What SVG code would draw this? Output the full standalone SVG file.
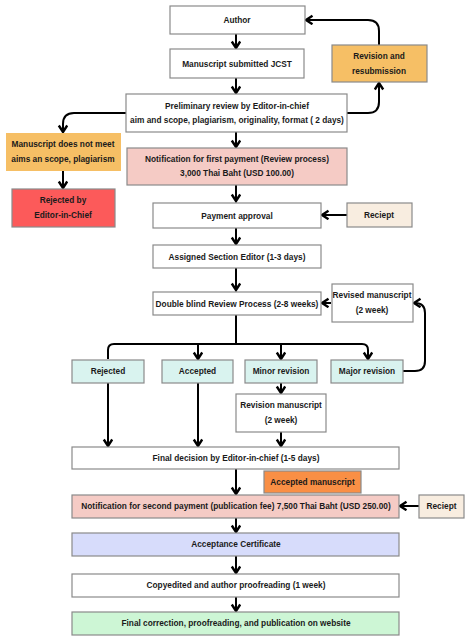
<svg xmlns="http://www.w3.org/2000/svg" width="474" height="642" viewBox="0 0 474 642">
<style>
.b{stroke:#8a8a8a;stroke-width:1.2}
.w{fill:#ffffff}
.pk{fill:#f5cbc5}
.cy{fill:#d9f3ef}
.yl{fill:#f6bf65}
.t{font-family:"Liberation Sans",Arial,sans-serif;font-size:8.3px;font-weight:bold;fill:#1a1a1a;text-anchor:middle;dominant-baseline:central}
.c{fill:none;stroke:#000;stroke-width:2;marker-end:url(#ah)}
.n{fill:none;stroke:#000;stroke-width:2}
</style>
<defs>
<marker id="ah" markerUnits="userSpaceOnUse" markerWidth="12" markerHeight="12" refX="8" refY="5" orient="auto">
<path d="M1.5,0.8 L8,5 L1.5,9.2" fill="none" stroke="#000" stroke-width="2.4" stroke-linejoin="miter"/>
</marker>
</defs>
<rect width="474" height="642" fill="#ffffff"/>
<g id="connectors">
<path class="c" d="M236,34 V48"/>
<path class="c" d="M236,78 V93"/>
<path class="c" d="M236,132 V147"/>
<path class="c" d="M236,185 V201"/>
<path class="c" d="M236,228 V244"/>
<path class="c" d="M236,268 V290"/>
<path class="c" d="M347,215 H322"/>
<path class="c" d="M331,303 H322"/>
<path class="n" d="M236,315 V344"/>
<path class="c" d="M108,359 V350 Q108,344 114,344 H362 Q368,344 368,350 V359"/>
<path class="c" d="M198,344 V359"/>
<path class="c" d="M281,344 V359"/>
<path class="c" d="M108,383 V446"/>
<path class="c" d="M198,383 V446"/>
<path class="c" d="M281,383 V393"/>
<path class="c" d="M281,432 V446"/>
<path class="c" d="M403,371 H415 Q425,371 425,361 V313 Q425,303 415,303 H414"/>
<path class="c" d="M236,469 V494"/>
<path class="c" d="M419,506 H400"/>
<path class="c" d="M236,518 V532"/>
<path class="c" d="M236,556 V573"/>
<path class="c" d="M236,597 V611"/>
<path class="c" d="M347,113 H368 Q379,113 379,102 V83"/>
<path class="c" d="M379,45 V31 Q379,20 368,20 H306"/>
<path class="c" d="M126,113 H74 Q63,113 63,124 V132"/>
<path class="c" d="M63,171 V188"/>
</g>
<g id="author"><rect class="b w" x="170" y="6" width="135" height="28"/><text class="t" x="237" y="20">Author</text></g>
<g id="submitted"><rect class="b w" x="170" y="49" width="134" height="29"/><text class="t" x="237" y="63.5">Manuscript submitted JCST</text></g>
<g id="revision-resubmission"><rect class="b yl" x="332" y="45" width="95" height="37"/><text class="t" x="379" y="55.5">Revision and</text><text class="t" x="379" y="70.5">resubmission</text></g>
<g id="preliminary"><rect class="b w" x="126" y="94" width="221" height="38"/><text class="t" x="237" y="105.5">Preliminary review by Editor-in-chief</text><text class="t" x="237" y="119.5">aim and scope, plagiarism, originality, format ( 2 days)</text></g>
<g id="not-meet"><rect x="6" y="133" width="115" height="38" class="yl"/><text class="t" x="63" y="144">Manuscript does not meet</text><text class="t" x="63" y="158.5">aims an scope, plagiarism</text></g>
<g id="rejected-eic"><rect class="b" x="12" y="189" width="103" height="38" fill="#fc5a5a"/><text class="t" x="63" y="200">Rejected by</text><text class="t" x="63" y="214.5">Editor-in-Chief</text></g>
<g id="first-payment"><rect class="b pk" x="127" y="148" width="220" height="37"/><text class="t" x="237" y="158.5">Notification for first payment (Review process)</text><text class="t" x="237" y="173">3,000 Thai Baht (USD 100.00)</text></g>
<g id="payment-approval"><rect class="b w" x="153" y="203" width="168" height="25"/><text class="t" x="237" y="215.5">Payment approval</text></g>
<g id="reciept1"><rect class="b" x="347" y="203" width="65" height="24" fill="#f8ede0"/><text class="t" x="379" y="215">Reciept</text></g>
<g id="assigned"><rect class="b w" x="153" y="245" width="168" height="23"/><text class="t" x="237" y="256.5">Assigned Section Editor (1-3 days)</text></g>
<g id="double-blind"><rect class="b w" x="153" y="292" width="168" height="23"/><text class="t" x="237" y="303.5">Double blind Review Process (2-8 weeks)</text></g>
<g id="revised"><rect class="b w" x="332" y="284" width="81" height="38"/><text class="t" x="372" y="294.5">Revised manuscript</text><text class="t" x="372" y="309.5">(2 week)</text></g>
<g id="rejected"><rect class="b cy" x="72" y="360" width="72" height="23"/><text class="t" x="108" y="371">Rejected</text></g>
<g id="accepted"><rect class="b cy" x="162" y="360" width="71" height="23"/><text class="t" x="197.5" y="371">Accepted</text></g>
<g id="minor"><rect class="b cy" x="245" y="360" width="72" height="23"/><text class="t" x="281" y="371">Minor revision</text></g>
<g id="major"><rect class="b cy" x="331" y="360" width="72" height="23"/><text class="t" x="367" y="371">Major revision</text></g>
<g id="revision-manuscript"><rect class="b w" x="236" y="394" width="90" height="38"/><text class="t" x="281" y="405">Revision manuscript</text><text class="t" x="281" y="420">(2 week)</text></g>
<g id="final-decision"><rect class="b w" x="72" y="447" width="327" height="22"/><text class="t" x="236" y="458">Final decision by Editor-in-chief (1-5 days)</text></g>
<g id="accepted-manuscript"><rect class="b" x="264" y="471" width="97" height="22" fill="#f98f45"/><text class="t" x="312.5" y="481.5">Accepted manuscript</text></g>
<g id="second-payment"><rect class="b pk" x="72" y="495" width="327" height="23"/><text class="t" x="236" y="506">Notification for second payment (publication fee) 7,500 Thai Baht (USD 250.00)</text></g>
<g id="reciept2"><rect class="b" x="419" y="495" width="45" height="23" fill="#f8ede0"/><text class="t" x="441.5" y="506">Reciept</text></g>
<g id="certificate"><rect class="b" x="72" y="533" width="327" height="23" fill="#d7dcfb"/><text class="t" x="236" y="544">Acceptance Certificate</text></g>
<g id="copyedited"><rect class="b w" x="72" y="574" width="327" height="23"/><text class="t" x="236" y="585">Copyedited and author proofreading (1 week)</text></g>
<g id="final-correction"><rect class="b" x="72" y="612" width="327" height="23" fill="#cdf6d5"/><text class="t" x="236" y="623">Final correction, proofreading, and publication on website</text></g>
</svg>
